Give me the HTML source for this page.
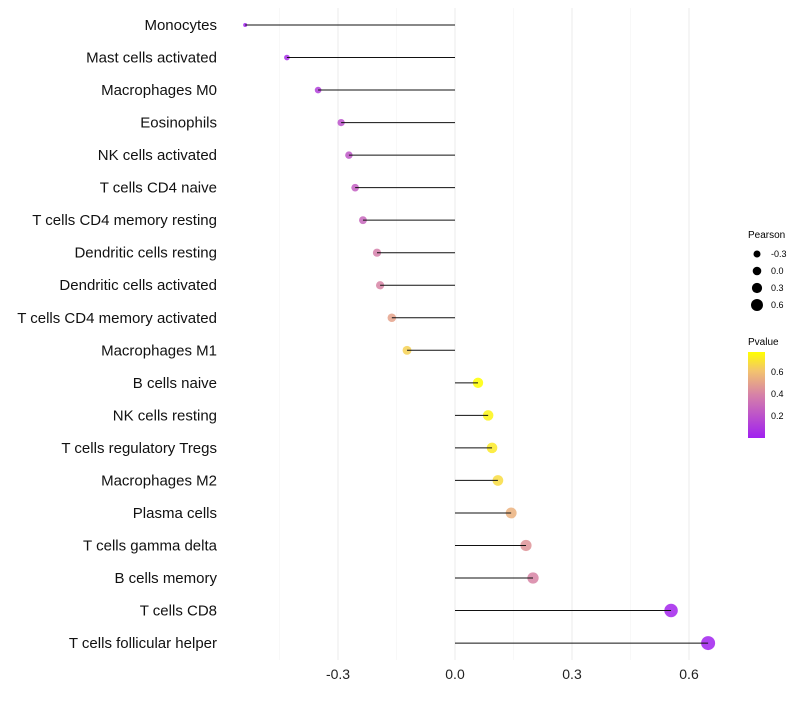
<!DOCTYPE html>
<html><head><meta charset="utf-8"><style>
body{margin:0;background:#fff;font-family:"Liberation Sans",sans-serif}
</style></head><body>
<svg id="chart" width="800" height="700" xmlns="http://www.w3.org/2000/svg">
<defs><linearGradient id="pg" x1="0" y1="1" x2="0" y2="0">
<stop offset="0" stop-color="#a020f0"/><stop offset="0.5" stop-color="#d681a8"/><stop offset="0.78" stop-color="#f3c36e"/><stop offset="1" stop-color="#ffff00"/></linearGradient></defs>
<g id="grid"></g><g id="points"></g><g id="marks"></g><g id="labels"></g>
<g font-size="9" fill="#000">
<text x="748" y="238" font-size="10">Pearson</text>
<circle cx="757" cy="254" r="3.5"/><text x="771" y="257">-0.3</text>
<circle cx="757" cy="271" r="4.3"/><text x="771" y="274">0.0</text>
<circle cx="757" cy="288" r="5.1"/><text x="771" y="291">0.3</text>
<circle cx="757" cy="305" r="6"/><text x="771" y="308">0.6</text>
</g>
<g font-size="9">
<text x="748" y="345" font-size="10">Pvalue</text>
<rect x="748" y="352" width="17" height="86" fill="url(#pg)"/>
<text x="771" y="375">0.6</text><text x="771" y="397">0.4</text><text x="771" y="419">0.2</text>
</g>
</svg>
<script>
const categories=["Monocytes","Mast cells activated","Macrophages M0","Eosinophils","NK cells activated","T cells CD4 naive","T cells CD4 memory resting","Dendritic cells resting","Dendritic cells activated","T cells CD4 memory activated","Macrophages M1","B cells naive","NK cells resting","T cells regulatory  Tregs ","Macrophages M2","Plasma cells","T cells gamma delta","B cells memory","T cells CD8","T cells follicular helper"];
const pearson=[-0.538,-0.431,-0.351,-0.292,-0.272,-0.256,-0.236,-0.2,-0.192,-0.162,-0.123,0.059,0.085,0.095,0.110,0.144,0.182,0.2,0.554,0.649];
const pvalues=[0.01,0.05,0.12,0.2,0.22,0.25,0.28,0.38,0.4,0.5,0.65,0.8,0.75,0.72,0.68,0.55,0.45,0.4,0.02,0.01];
const xTicks=[-0.3,0,0.3,0.6];
const xTickLabels=["-0.3","0.0","0.3","0.6"];
const NS="http://www.w3.org/2000/svg";
const x=v=>455+v*390;
const y=i=>25+i*32.53;
const r=v=>Math.sqrt(Math.max(1,24.4+37.9*v));
function lerp(a,b,t){return a.map((c,k)=>Math.round(c+(b[k]-c)*t));}
function color(p){const stops=[[0,[160,32,240]],[0.39,[214,129,168]],[0.61,[243,195,110]],[0.78,[255,255,0]]];
 p=Math.max(0,Math.min(0.78,p));for(let k=0;k<stops.length-1;k++){if(p<=stops[k+1][0]){const t=(p-stops[k][0])/(stops[k+1][0]-stops[k][0]);return "rgb("+lerp(stops[k][1],stops[k+1][1],t).join(",")+")";}}return "rgb(255,255,0)";}
function mk(tag,attrs,parent){const e=document.createElementNS(NS,tag);for(const k in attrs)e.setAttribute(k,attrs[k]);parent.appendChild(e);return e;}
const grid=document.getElementById('grid'),marks=document.getElementById('marks'),labels=document.getElementById('labels'),points=document.getElementById('points');
[-0.45,-0.15,0.15,0.45].forEach(v=>{const l=mk('line',{x1:x(v),x2:x(v),y1:8,y2:660,stroke:'#f3f3f3','stroke-width':0.6},grid);

});
xTicks.forEach((v,i)=>{const l=mk('line',{x1:x(v),x2:x(v),y1:8,y2:660,stroke:'#ebebeb','stroke-width':1},grid);


const t=mk('text',{x:x(v),y:679,'text-anchor':'middle','font-size':14,fill:'#222'},labels);t.textContent=xTickLabels[i];

});
categories.forEach((c,i)=>{const yy=y(i);
 const t=mk('text',{x:217,y:yy+5,'text-anchor':'end','font-size':15,fill:'#111'},labels);t.textContent=c;
 
 
 const d=mk('circle',{cx:x(pearson[i]),cy:yy,r:r(pearson[i]),fill:color(pvalues[i]),'fill-opacity':0.85},points);
 
 
 const l=mk('line',{x1:x(0),x2:x(pearson[i]),y1:yy,y2:yy,stroke:'#111','stroke-width':1},marks);
 
 
});
</script>
</body></html>
